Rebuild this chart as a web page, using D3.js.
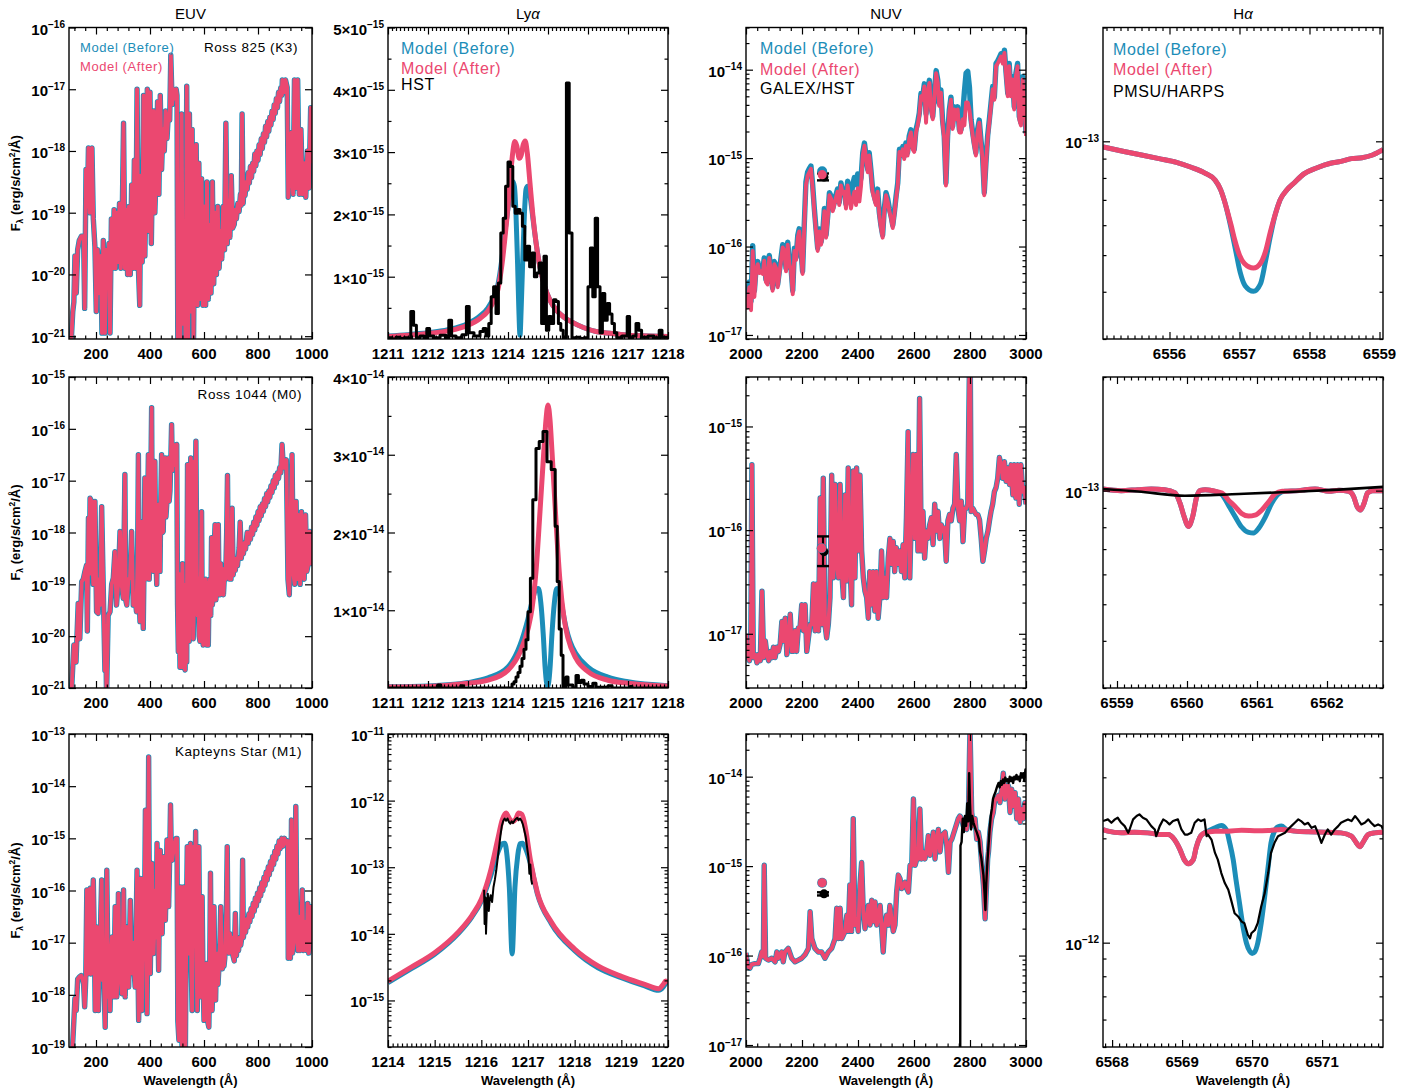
<!DOCTYPE html>
<html>
<head>
<meta charset="utf-8">
<script src="https://cdn.jsdelivr.net/npm/d3@7"></script>
<style>
  body { margin: 0; background: #fff; }
  svg text { font-family: "Liberation Sans", Arial, Helvetica, sans-serif; }
</style>
</head>
<body>
<svg id="fig" width="1422" height="1091"></svg>
<script>
// ---------------------------------------------------------------------------
// Spectra of three stars (Ross 825, Ross 1044, Kapteyn's Star) in four bands.
// EUV and NUV model spectra are stored as [wavelength Å, log10 F_λ];
// Lyα and Hα profiles as [wavelength Å, F_λ] in erg/s/cm²/Å.
// ---------------------------------------------------------------------------

const columnTitles = ["EUV", "Ly", "NUV", "H"];
const starLabels = ["Ross 825 (K3)", "Ross 1044 (M0)", "Kapteyns Star (M1)"];
const legendNames = ["Model (Before)", "Model (After)"];
const obsNames = ["HST", "GALEX/HST", "PMSU/HARPS"];

// ---- EUV (before and after models coincide in this band) ----
const euvRoss825 = [[100,-21.3],[108,-21.1],[114,-20.6],[118,-20.45],[122,-19.7],[127,-20.3],[132,-19.6],[138,-19.45],[146,-19.38],[154,-19.38],[158,-20.55],[163,-18.3],[168,-18.9],[172,-17.95],[177,-19.0],[181,-18.2],[185,-17.95],[190,-19.1],[196,-19.55],[201,-20.6],[206,-19.6],[212,-20.3],[218,-19.7],[222,-20.95],[227,-19.45],[233,-20.95],[238,-19.6],[243,-20.2],[248,-19.5],[252,-20.95],[257,-19.1],[262,-19.9],[267,-18.95],[272,-19.9],[277,-19.0],[282,-19.8],[287,-18.85],[292,-19.9],[297,-19.1],[302,-17.55],[307,-19.9],[312,-18.95],[317,-20.0],[322,-18.9],[327,-20.0],[332,-18.55],[337,-19.9],[342,-18.15],[347,-19.9],[352,-17.0],[357,-19.9],[362,-20.5],[366,-18.4],[371,-19.8],[376,-17.1],[381,-19.7],[386,-18.2],[390,-17.0],[395,-19.3],[400,-17.05],[405,-19.5],[410,-18.0],[413,-17.35],[418,-19.0],[423,-18.3],[428,-17.2],[433,-18.7],[438,-17.1],[443,-18.3],[448,-17.65],[453,-18.0],[458,-17.35],[463,-17.8],[468,-17.4],[473,-17.5],[477,-16.45],[482,-17.25],[487,-17.0],[492,-17.15],[497,-17.0],[500,-17.1],[503,-21.3],[508,-20.0],[512,-21.3],[517,-17.4],[522,-20.8],[527,-19.3],[532,-21.3],[536,-16.95],[541,-21.3],[546,-17.4],[551,-20.6],[556,-17.65],[561,-21.2],[566,-18.6],[571,-17.9],[576,-20.5],[581,-18.2],[586,-20.4],[591,-18.45],[596,-20.5],[601,-18.9],[606,-20.5],[611,-18.5],[616,-20.4],[621,-19.2],[626,-20.3],[631,-18.5],[636,-20.15],[641,-19.0],[646,-20.0],[651,-18.9],[656,-19.9],[661,-19.3],[666,-19.75],[671,-18.9],[676,-19.6],[681,-17.55],[686,-19.5],[691,-18.8],[696,-19.4],[701,-18.4],[706,-19.25],[712,-19.19],[716,-18.95],[720,-19.1],[725,-18.85],[730,-18.98],[735,-18.7],[738,-18.88],[741,-17.4],[745,-18.85],[749,-18.55],[752,-18.72],[756,-18.5],[760,-18.62],[764,-18.35],[768,-18.52],[772,-18.25],[776,-18.43],[780,-18.2],[784,-18.33],[788,-18.05],[792,-18.24],[796,-18.0],[800,-18.15],[804,-17.9],[808,-18.06],[812,-17.8],[816,-17.96],[820,-17.72],[824,-17.86],[828,-17.6],[832,-17.77],[836,-17.52],[840,-17.68],[844,-17.45],[848,-17.58],[852,-17.35],[856,-17.49],[860,-17.25],[864,-17.39],[868,-17.15],[872,-17.3],[876,-17.05],[880,-17.2],[884,-16.98],[888,-17.1],[890,-16.85],[896,-17.05],[902,-16.85],[908,-16.97],[912,-18.75],[918,-18.4],[924,-17.7],[930,-18.7],[935,-16.85],[941,-18.6],[947,-16.85],[953,-18.7],[959,-17.65],[965,-18.7],[971,-18.2],[977,-18.75],[983,-18.0],[989,-18.6],[995,-17.3],[1000,-18.2]];

const euvRoss1044 = [[104,-21.4],[110,-21.0],[118,-20.17],[126,-20.5],[134,-19.37],[140,-20.05],[147,-18.95],[153,-18.9],[159,-18.75],[165,-18.63],[168,-19.9],[172,-17.72],[175,-18.8],[178,-17.34],[184,-17.4],[187,-18.6],[190,-19.0],[196,-17.4],[202,-19.53],[208,-19.56],[212,-18.9],[215,-19.4],[221,-17.5],[227,-19.1],[233,-20.66],[236,-19.8],[239,-21.2],[245,-19.6],[252,-19.53],[258,-19.0],[264,-18.88],[270,-18.37],[276,-19.4],[282,-19.0],[289,-17.98],[295,-19.0],[301,-19.27],[304,-18.2],[307,-16.88],[310,-19.3],[314,-19.4],[320,-18.9],[326,-18.88],[332,-17.98],[338,-19.4],[344,-19.2],[350,-19.53],[354,-18.5],[357,-16.5],[360,-19.3],[363,-19.72],[366,-18.4],[369,-17.79],[372,-19.3],[375,-19.85],[378,-18.6],[381,-16.95],[384,-18.9],[388,-18.75],[391,-17.6],[394,-16.5],[397,-18.9],[400,-18.4],[403,-17.0],[406,-15.59],[409,-18.6],[412,-18.75],[415,-17.5],[418,-16.63],[421,-18.4],[425,-19.0],[428,-17.8],[431,-17.46],[434,-18.3],[437,-18.75],[440,-17.4],[443,-16.5],[446,-18.0],[449,-17.98],[452,-17.2],[456,-16.56],[459,-17.7],[462,-17.46],[465,-17.0],[468,-16.56],[471,-17.4],[474,-17.2],[477,-16.6],[480,-15.92],[483,-16.8],[486,-16.3],[490,-16.7],[494,-16.4],[499,-16.3],[502,-19.4],[505,-20.3],[508,-18.8],[511,-20.6],[514,-19.0],[517,-20.6],[520,-18.6],[523,-19.5],[527,-20.6],[530,-20.65],[533,-19.0],[536,-20.5],[539,-16.69],[542,-19.5],[545,-20.1],[548,-17.2],[551,-16.56],[554,-19.0],[557,-16.63],[560,-20.05],[563,-19.3],[567,-17.5],[570,-16.24],[573,-18.6],[576,-19.6],[579,-18.88],[582,-20.0],[585,-20.1],[588,-19.2],[591,-17.6],[594,-19.9],[597,-20.17],[600,-19.0],[603,-20.1],[606,-18.9],[610,-20.17],[613,-19.27],[616,-20.17],[619,-19.0],[622,-18.9],[625,-19.6],[628,-18.1],[631,-19.4],[634,-19.2],[637,-18.4],[641,-17.85],[644,-19.3],[647,-18.95],[650,-18.3],[653,-17.85],[656,-19.2],[659,-19.2],[662,-18.6],[665,-19.0],[668,-18.7],[672,-19.2],[676,-18.8],[680,-18.9],[684,-18.0],[687,-16.9],[690,-18.6],[694,-18.9],[700,-18.9],[704,-17.53],[708,-18.82],[712,-18.6],[716,-18.73],[720,-18.5],[724,-18.64],[730,-18.3],[734,-17.8],[738,-18.5],[742,-18.3],[746,-18.41],[750,-18.2],[754,-18.32],[758,-18.1],[760,-18.0],[764,-18.21],[768,-18.0],[772,-18.13],[776,-17.9],[780,-18.04],[784,-17.8],[788,-17.95],[792,-17.7],[796,-17.86],[800,-17.6],[804,-17.77],[808,-17.5],[812,-17.68],[816,-17.45],[820,-17.59],[824,-17.35],[828,-17.5],[832,-17.25],[836,-17.41],[840,-17.2],[844,-17.32],[848,-17.1],[852,-17.23],[856,-17.0],[860,-17.14],[864,-16.9],[868,-17.05],[872,-16.85],[876,-16.96],[880,-16.75],[884,-16.85],[889,-16.3],[894,-16.75],[900,-16.65],[905,-16.6],[911,-18.9],[916,-19.2],[921,-17.7],[926,-16.5],[931,-18.8],[936,-19.0],[941,-17.4],[946,-18.9],[951,-17.66],[956,-19.0],[961,-17.6],[966,-18.75],[971,-18.9],[976,-17.66],[981,-18.75],[986,-18.6],[991,-17.98],[996,-18.6],[1000,-18.3]];

const euvKapteyn = [[108,-19.3],[113,-19.0],[118,-18.5],[122,-18.07],[127,-18.3],[132,-17.7],[138,-17.66],[145,-17.63],[150,-17.7],[154,-17.79],[158,-18.23],[162,-17.7],[166,-15.99],[169,-17.6],[172,-17.59],[175,-16.0],[178,-15.96],[181,-17.6],[184,-17.59],[187,-16.2],[190,-15.8],[194,-17.0],[197,-18.3],[200,-17.0],[203,-16.7],[206,-17.5],[209,-18.3],[212,-17.3],[215,-17.21],[218,-16.4],[221,-15.8],[225,-17.72],[228,-17.4],[231,-18.0],[234,-18.62],[237,-17.4],[240,-15.61],[243,-17.0],[246,-18.04],[249,-17.6],[252,-18.3],[256,-17.2],[259,-16.89],[262,-17.5],[265,-18.04],[268,-17.3],[271,-16.31],[274,-17.6],[277,-18.04],[280,-17.5],[283,-16.06],[287,-17.3],[290,-17.59],[293,-17.8],[296,-17.98],[299,-17.0],[302,-15.99],[305,-17.3],[308,-18.04],[311,-17.2],[314,-16.7],[317,-17.6],[321,-17.85],[324,-17.0],[327,-16.19],[330,-17.3],[333,-17.59],[336,-17.21],[339,-17.0],[342,-17.6],[345,-17.85],[348,-16.8],[352,-15.61],[355,-17.3],[358,-18.49],[361,-17.3],[364,-15.77],[367,-17.0],[370,-18.3],[373,-16.8],[376,-15.77],[379,-16.9],[383,-14.46],[386,-17.2],[389,-18.36],[392,-16.5],[395,-13.44],[398,-16.8],[401,-17.59],[404,-16.5],[407,-15.48],[410,-16.8],[413,-17.21],[417,-16.6],[420,-16.0],[423,-16.9],[426,-15.1],[429,-16.5],[432,-17.53],[435,-16.2],[438,-15.23],[441,-16.3],[445,-16.83],[448,-16.0],[451,-15.35],[454,-16.1],[457,-16.57],[460,-15.8],[463,-15.03],[466,-15.9],[469,-16.31],[472,-15.6],[476,-14.36],[479,-15.3],[482,-15.42],[485,-15.3],[488,-15.23],[491,-15.1],[494,-15.03],[497,-15.0],[500,-15.0],[503,-18.5],[507,-18.87],[510,-16.5],[513,-15.93],[516,-18.2],[519,-19.1],[522,-16.6],[525,-15.93],[528,-18.5],[531,-19.1],[534,-17.0],[538,-15.16],[541,-17.2],[544,-17.21],[547,-16.0],[550,-15.1],[553,-17.5],[556,-18.3],[559,-16.2],[562,-15.16],[565,-16.5],[569,-14.87],[572,-17.0],[575,-18.3],[578,-16.6],[581,-15.16],[584,-17.2],[587,-18.04],[590,-17.4],[593,-16.12],[596,-17.5],[600,-18.49],[603,-17.9],[606,-17.98],[609,-17.4],[612,-18.3],[615,-18.55],[618,-18.62],[621,-17.6],[624,-15.67],[627,-17.7],[630,-18.3],[634,-17.6],[637,-16.31],[640,-17.6],[643,-18.1],[646,-17.3],[649,-17.21],[652,-17.8],[655,-17.5],[659,-17.0],[662,-16.31],[665,-17.4],[668,-17.5],[671,-17.2],[674,-17.45],[677,-17.3],[680,-16.8],[683,-16.4],[686,-15.16],[689,-17.1],[692,-17.2],[696,-16.83],[699,-17.1],[702,-16.9],[705,-17.2],[712,-17.35],[716,-16.44],[720,-17.25],[724,-17.0],[728,-17.15],[732,-16.9],[736,-17.05],[740,-16.9],[743,-15.42],[746,-16.9],[750,-16.65],[754,-16.8],[758,-16.55],[762,-16.7],[766,-16.45],[770,-16.6],[774,-16.35],[778,-16.5],[782,-16.25],[786,-16.4],[790,-16.15],[794,-16.3],[798,-16.05],[802,-16.2],[806,-15.95],[810,-16.1],[814,-15.85],[818,-16.0],[822,-15.75],[826,-15.9],[830,-15.65],[834,-15.8],[838,-15.55],[842,-15.7],[846,-15.45],[850,-15.6],[854,-15.35],[858,-15.5],[862,-15.25],[866,-15.4],[870,-15.15],[874,-15.3],[878,-15.05],[882,-15.2],[888,-15.0],[893,-15.15],[898,-15.0],[904,-15.1],[910,-15.05],[912,-17.3],[916,-17.1],[920,-17.3],[924,-14.65],[928,-17.2],[932,-17.0],[936,-16.3],[940,-14.39],[944,-16.8],[948,-17.15],[952,-16.5],[956,-17.15],[960,-17.0],[964,-15.99],[968,-17.15],[972,-17.0],[976,-16.6],[980,-17.15],[984,-16.25],[988,-17.2],[992,-17.0],[996,-16.31],[1000,-16.9]];

// ---- Lyα profiles (F_λ) ----
const lyaRoss825Before = [[1211.0,0.05e-15],[1211.5,0.07e-15],[1212.0,0.1e-15],[1212.5,0.15e-15],[1213.0,0.25e-15],[1213.3,0.37e-15],[1213.5,0.5e-15],[1213.65,0.68e-15],[1213.75,0.88e-15],[1213.85,1.3e-15],[1213.92,1.7e-15],[1214.0,2.1e-15],[1214.06,2.4e-15],[1214.12,2.53e-15],[1214.16,2.45e-15],[1214.2,2.0e-15],[1214.24,1.2e-15],[1214.27,0.5e-15],[1214.3,0.06e-15],[1214.33,0.5e-15],[1214.37,1.3e-15],[1214.41,2.0e-15],[1214.45,2.4e-15],[1214.49,2.45e-15],[1214.55,2.3e-15],[1214.62,1.95e-15],[1214.7,1.55e-15],[1214.8,1.15e-15],[1214.9,0.88e-15],[1215.05,0.62e-15],[1215.2,0.47e-15],[1215.4,0.35e-15],[1215.6,0.27e-15],[1215.9,0.18e-15],[1216.2,0.12e-15],[1216.6,0.09e-15],[1217.0,0.06e-15],[1217.5,0.05e-15],[1218.0,0.04e-15]];
const lyaRoss825After = [[1211.0,0.04e-15],[1211.5,0.06e-15],[1212.0,0.09e-15],[1212.5,0.13e-15],[1213.0,0.22e-15],[1213.3,0.33e-15],[1213.5,0.45e-15],[1213.65,0.62e-15],[1213.75,0.8e-15],[1213.85,1.2e-15],[1213.92,1.6e-15],[1214.0,2.13e-15],[1214.06,2.6e-15],[1214.12,3.0e-15],[1214.17,3.17e-15],[1214.22,3.1e-15],[1214.28,2.9e-15],[1214.33,2.95e-15],[1214.38,3.12e-15],[1214.43,3.18e-15],[1214.48,3.0e-15],[1214.55,2.5e-15],[1214.62,2.0e-15],[1214.7,1.55e-15],[1214.8,1.15e-15],[1214.9,0.88e-15],[1215.05,0.62e-15],[1215.2,0.47e-15],[1215.4,0.35e-15],[1215.6,0.27e-15],[1215.9,0.18e-15],[1216.2,0.12e-15],[1216.6,0.09e-15],[1217.0,0.06e-15],[1217.5,0.05e-15],[1218.0,0.04e-15]];
const lyaRoss825Hst = [[1211.0,0.02e-15],[1211.1,0.0],[1211.2,0.03e-15],[1211.3,0.01e-15],[1211.4,0.02e-15],[1211.5,0.0],[1211.57,0.44e-15],[1211.64,0.22e-15],[1211.71,0.02e-15],[1211.8,0.05e-15],[1211.9,0.0],[1211.97,0.17e-15],[1212.04,0.05e-15],[1212.15,0.02e-15],[1212.3,0.06e-15],[1212.45,0.01e-15],[1212.52,0.3e-15],[1212.59,0.05e-15],[1212.7,0.02e-15],[1212.85,0.07e-15],[1212.96,0.52e-15],[1213.03,0.1e-15],[1213.15,0.05e-15],[1213.3,0.12e-15],[1213.38,0.17e-15],[1213.45,0.05e-15],[1213.52,0.25e-15],[1213.58,0.68e-15],[1213.64,0.84e-15],[1213.7,0.41e-15],[1213.76,0.9e-15],[1213.82,1.7e-15],[1213.88,1.94e-15],[1213.94,2.45e-15],[1214.0,2.84e-15],[1214.06,2.77e-15],[1214.12,2.13e-15],[1214.18,2.02e-15],[1214.24,2.08e-15],[1214.3,2.02e-15],[1214.36,1.81e-15],[1214.42,1.27e-15],[1214.48,1.49e-15],[1214.54,1.16e-15],[1214.6,1.38e-15],[1214.66,1.0e-15],[1214.72,1.06e-15],[1214.78,1.22e-15],[1214.84,0.25e-15],[1214.9,1.33e-15],[1214.96,0.14e-15],[1215.02,0.36e-15],[1215.08,0.25e-15],[1215.14,0.63e-15],[1215.2,0.6e-15],[1215.26,0.25e-15],[1215.32,0.14e-15],[1215.38,0.02e-15],[1215.46,4.11e-15],[1215.53,1.7e-15],[1215.6,0.02e-15],[1215.7,0.03e-15],[1215.8,0.01e-15],[1215.9,0.02e-15],[1216.0,0.84e-15],[1216.06,1.46e-15],[1216.12,0.68e-15],[1216.18,1.94e-15],[1216.24,0.84e-15],[1216.3,0.1e-15],[1216.36,0.73e-15],[1216.42,0.3e-15],[1216.48,0.57e-15],[1216.54,0.4e-15],[1216.6,0.25e-15],[1216.66,0.1e-15],[1216.72,0.02e-15],[1216.85,0.05e-15],[1216.98,0.36e-15],[1217.04,0.02e-15],[1217.12,0.05e-15],[1217.2,0.25e-15],[1217.27,0.14e-15],[1217.34,0.03e-15],[1217.5,0.05e-15],[1217.65,0.02e-15],[1217.78,0.14e-15],[1217.85,0.03e-15],[1218.0,0.03e-15]];

const lyaRoss1044Before = [[1211,0.015e-14],[1212,0.025e-14],[1213,0.07e-14],[1213.5,0.13e-14],[1214.0,0.27e-14],[1214.3,0.55e-14],[1214.5,0.89e-14],[1214.62,1.15e-14],[1214.7,1.27e-14],[1214.76,1.28e-14],[1214.82,1.1e-14],[1214.88,0.7e-14],[1214.93,0.25e-14],[1214.99,0.01e-14],[1215.05,0.25e-14],[1215.1,0.7e-14],[1215.16,1.1e-14],[1215.22,1.28e-14],[1215.28,1.25e-14],[1215.36,1.02e-14],[1215.45,0.78e-14],[1215.55,0.6e-14],[1215.7,0.44e-14],[1216,0.27e-14],[1216.5,0.14e-14],[1217,0.08e-14],[1218,0.03e-14]];
const lyaRoss1044After = [[1211,0.013e-14],[1212,0.02e-14],[1213,0.06e-14],[1213.5,0.1e-14],[1214.0,0.23e-14],[1214.3,0.46e-14],[1214.5,0.76e-14],[1214.6,1.02e-14],[1214.7,1.5e-14],[1214.8,2.27e-14],[1214.9,3.08e-14],[1214.95,3.45e-14],[1215.0,3.64e-14],[1215.05,3.45e-14],[1215.1,3.04e-14],[1215.2,2.14e-14],[1215.3,1.37e-14],[1215.4,0.9e-14],[1215.5,0.64e-14],[1215.7,0.38e-14],[1216.0,0.21e-14],[1216.5,0.1e-14],[1217,0.06e-14],[1218,0.025e-14]];
const lyaRoss1044Hst = [[1211.0,0.0],[1212.25,0.04e-14],[1212.32,0.0],[1212.82,0.03e-14],[1212.88,0.0],[1214.1,0.05e-14],[1214.15,0.08e-14],[1214.2,0.14e-14],[1214.25,0.2e-14],[1214.3,0.28e-14],[1214.35,0.38e-14],[1214.4,0.5e-14],[1214.45,0.62e-14],[1214.5,0.98e-14],[1214.56,1.41e-14],[1214.62,2.42e-14],[1214.7,3.08e-14],[1214.78,3.17e-14],[1214.875,3.3e-14],[1214.975,2.91e-14],[1215.08,2.81e-14],[1215.18,2.08e-14],[1215.23,1.37e-14],[1215.28,0.76e-14],[1215.33,0.42e-14],[1215.375,0.01e-14],[1215.45,0.14e-14],[1215.5,0.04e-14],[1215.62,0.0],[1215.7,0.16e-14],[1215.76,0.07e-14],[1215.83,0.1e-14],[1215.9,0.05e-14],[1216.0,0.02e-14],[1216.12,0.06e-14],[1216.2,0.01e-14],[1216.5,0.03e-14],[1216.6,0.0],[1217.05,0.02e-14],[1217.1,0.0],[1218,0.0]];

const lyaKapteynBefore = [[1214.0,1.85e-15],[1214.5,3.0e-15],[1215.0,4.95e-15],[1215.5,1.0e-14],[1215.8,1.8e-14],[1216.0,3.1e-14],[1216.2,7.4e-14],[1216.35,1.65e-13],[1216.45,2.25e-13],[1216.5,2.3e-13],[1216.55,1.5e-13],[1216.6,5e-14],[1216.66,5e-15],[1216.72,5e-14],[1216.78,1.5e-13],[1216.83,2.25e-13],[1216.88,2.3e-13],[1216.95,1.9e-13],[1217.05,1.15e-13],[1217.2,4.0e-14],[1217.5,1.42e-14],[1218.0,5.6e-15],[1218.5,3.1e-15],[1219.0,2.2e-15],[1219.5,1.65e-15],[1219.8,1.42e-15],[1219.9,1.6e-15],[1219.95,1.8e-15],[1220.0,1.75e-15]];
const lyaKapteynAfter = [[1214.0,1.95e-15],[1214.5,3.16e-15],[1215.0,5.2e-15],[1215.5,1.05e-14],[1215.8,1.9e-14],[1216.0,3.3e-14],[1216.2,8.9e-14],[1216.35,2.6e-13],[1216.45,5.2e-13],[1216.53,6.5e-13],[1216.6,5.4e-13],[1216.67,4.8e-13],[1216.73,5.2e-13],[1216.8,6.5e-13],[1216.87,6.2e-13],[1216.95,3.7e-13],[1217.05,1.3e-13],[1217.2,4.2e-14],[1217.5,1.5e-14],[1218.0,5.9e-15],[1218.5,3.3e-15],[1219.0,2.3e-15],[1219.5,1.75e-15],[1219.8,1.5e-15],[1219.9,1.75e-15],[1219.95,1.95e-15],[1220.0,1.85e-15]];
const lyaKapteynHst = [[1216.06,4.6e-14],[1216.07,1.4e-14],[1216.09,3.5e-14],[1216.1,1.0e-14],[1216.12,2.6e-14],[1216.14,4.0e-14],[1216.16,2.2e-14],[1216.18,3.3e-14],[1216.2,3.8e-14],[1216.23,3.0e-14],[1216.26,5.0e-14],[1216.29,6.5e-14],[1216.32,9e-14],[1216.35,1.35e-13],[1216.38,2.0e-13],[1216.41,3.0e-13],[1216.44,4.2e-13],[1216.47,5.0e-13],[1216.5,5.4e-13],[1216.53,5.0e-13],[1216.56,5.4e-13],[1216.59,4.8e-13],[1216.62,4.5e-13],[1216.65,4.9e-13],[1216.68,4.6e-13],[1216.71,5.0e-13],[1216.74,5.3e-13],[1216.77,5.5e-13],[1216.8,5.1e-13],[1216.83,5.4e-13],[1216.86,5.0e-13],[1216.89,4.4e-13],[1216.92,3.6e-13],[1216.95,2.9e-13],[1216.98,2.0e-13],[1217.01,1.4e-13],[1217.03,8e-14],[1217.05,1.1e-13],[1217.07,6.5e-14],[1217.09,5.5e-14]];

// ---- NUV model spectra, log10 F_λ ----
const nuvRoss825After = [[2000,-16.57],[2004,-16.69],[2012,-16.46],[2018,-16.72],[2024,-16.05],[2030,-16.57],[2036,-16.28],[2042,-16.2],[2048,-16.3],[2054,-16.28],[2060,-16.31],[2065,-16.16],[2071,-16.4],[2077,-16.43],[2083,-16.13],[2089,-16.3],[2095,-16.5],[2101,-16.2],[2107,-16.24],[2113,-16.46],[2119,-16.31],[2125,-16.16],[2131,-16.01],[2137,-16.05],[2143,-16.28],[2149,-15.98],[2155,-16.2],[2161,-16.28],[2167,-16.54],[2173,-16.05],[2179,-16.15],[2185,-15.9],[2190,-15.83],[2196,-16.05],[2202,-16.31],[2208,-15.79],[2214,-15.31],[2220,-15.2],[2226,-15.16],[2232,-15.12],[2238,-15.34],[2244,-15.6],[2250,-15.83],[2256,-16.05],[2262,-15.83],[2268,-15.98],[2274,-15.87],[2280,-15.6],[2286,-15.9],[2292,-15.68],[2298,-15.42],[2304,-15.46],[2310,-15.6],[2315,-15.53],[2321,-15.45],[2327,-15.38],[2333,-15.53],[2339,-15.31],[2345,-15.4],[2351,-15.38],[2357,-15.57],[2363,-15.31],[2369,-15.45],[2375,-15.57],[2381,-15.46],[2387,-15.38],[2393,-15.53],[2399,-15.34],[2405,-15.49],[2411,-15.31],[2417,-14.97],[2423,-14.86],[2429,-15.01],[2435,-15.16],[2440,-14.97],[2446,-15.16],[2452,-15.38],[2458,-15.46],[2464,-15.53],[2470,-15.38],[2476,-15.64],[2482,-15.79],[2488,-15.9],[2494,-15.6],[2500,-15.42],[2506,-15.49],[2512,-15.6],[2518,-15.68],[2524,-15.79],[2530,-15.64],[2536,-15.46],[2542,-15.31],[2548,-14.93],[2554,-14.97],[2560,-14.9],[2565,-15.01],[2571,-14.86],[2577,-14.97],[2583,-14.78],[2589,-14.71],[2595,-14.9],[2601,-14.93],[2607,-14.71],[2613,-14.63],[2619,-14.52],[2625,-14.3],[2631,-14.34],[2637,-14.19],[2643,-14.6],[2649,-14.26],[2655,-14.15],[2661,-14.45],[2667,-14.56],[2673,-14.3],[2679,-14.04],[2685,-14.15],[2690,-14.41],[2696,-14.26],[2702,-14.6],[2708,-14.78],[2714,-15.31],[2720,-14.78],[2726,-14.49],[2732,-14.34],[2738,-14.67],[2744,-14.45],[2750,-14.56],[2756,-14.45],[2762,-14.71],[2768,-14.71],[2774,-14.56],[2780,-14.63],[2786,-14.37],[2792,-14.37],[2798,-14.45],[2804,-14.6],[2810,-14.75],[2815,-14.86],[2821,-14.97],[2827,-14.71],[2833,-14.6],[2839,-14.82],[2845,-15.01],[2851,-15.42],[2857,-15.08],[2863,-14.78],[2869,-14.6],[2875,-14.41],[2881,-14.22],[2887,-14.34],[2893,-13.96],[2899,-13.93],[2905,-13.89],[2911,-13.85],[2917,-13.93],[2923,-13.81],[2929,-14.07],[2935,-14.3],[2940,-13.96],[2946,-14.3],[2952,-14.11],[2958,-14.45],[2964,-14.07],[2970,-13.96],[2976,-14.56],[2982,-14.63],[2988,-14.11],[2994,-14.37],[3000,-14.75]];
const nuvRoss825Before = [[2000,-16.5],[2004,-16.6],[2012,-16.4],[2018,-16.62],[2024,-15.99],[2030,-16.5],[2036,-16.24],[2042,-16.17],[2048,-16.27],[2054,-16.25],[2060,-16.28],[2065,-16.13],[2071,-16.37],[2077,-16.4],[2083,-16.1],[2089,-16.27],[2095,-16.47],[2101,-16.17],[2107,-16.21],[2113,-16.43],[2119,-16.28],[2125,-16.13],[2131,-15.98],[2137,-16.02],[2143,-16.25],[2149,-15.95],[2155,-16.17],[2161,-16.25],[2167,-16.5],[2173,-16.02],[2179,-16.12],[2185,-15.87],[2190,-15.8],[2196,-16.02],[2202,-16.28],[2208,-15.76],[2214,-15.27],[2220,-15.16],[2226,-15.12],[2232,-15.09],[2238,-15.3],[2244,-15.57],[2250,-15.8],[2256,-16.02],[2262,-15.8],[2268,-15.95],[2274,-15.84],[2280,-15.57],[2286,-15.87],[2292,-15.65],[2298,-15.39],[2304,-15.43],[2310,-15.57],[2315,-15.5],[2321,-15.42],[2327,-15.35],[2333,-15.5],[2339,-15.28],[2345,-15.37],[2351,-15.35],[2357,-15.52],[2363,-15.26],[2369,-15.38],[2375,-15.45],[2381,-15.3],[2387,-15.22],[2393,-15.3],[2399,-15.18],[2405,-15.3],[2411,-15.22],[2417,-14.94],[2423,-14.83],[2429,-14.98],[2435,-15.13],[2440,-14.94],[2446,-15.13],[2452,-15.35],[2458,-15.43],[2464,-15.5],[2470,-15.35],[2476,-15.61],[2482,-15.76],[2488,-15.87],[2494,-15.57],[2500,-15.39],[2506,-15.46],[2512,-15.57],[2518,-15.65],[2524,-15.76],[2530,-15.61],[2536,-15.43],[2542,-15.28],[2548,-14.9],[2554,-14.94],[2560,-14.87],[2565,-14.98],[2571,-14.83],[2577,-14.94],[2583,-14.75],[2589,-14.68],[2595,-14.87],[2601,-14.9],[2607,-14.68],[2613,-14.6],[2619,-14.49],[2625,-14.27],[2631,-14.31],[2637,-14.16],[2643,-14.5],[2649,-14.23],[2655,-14.12],[2661,-14.42],[2667,-14.53],[2673,-14.27],[2679,-14.01],[2685,-14.12],[2690,-14.38],[2696,-14.23],[2702,-14.57],[2708,-14.75],[2714,-15.28],[2720,-14.75],[2726,-14.46],[2732,-14.31],[2738,-14.64],[2744,-14.42],[2750,-14.53],[2756,-14.42],[2762,-14.68],[2768,-14.68],[2774,-14.5],[2780,-14.25],[2786,-14.04],[2792,-14.02],[2798,-14.2],[2804,-14.57],[2810,-14.72],[2815,-14.83],[2821,-14.94],[2827,-14.68],[2833,-14.57],[2839,-14.79],[2845,-14.98],[2851,-15.39],[2857,-15.05],[2863,-14.75],[2869,-14.57],[2875,-14.38],[2881,-14.19],[2887,-14.31],[2893,-13.93],[2899,-13.9],[2905,-13.86],[2911,-13.82],[2917,-13.9],[2923,-13.78],[2929,-14.04],[2935,-14.27],[2940,-13.93],[2946,-14.27],[2952,-14.08],[2958,-14.42],[2964,-14.04],[2970,-13.93],[2976,-14.53],[2982,-14.6],[2988,-14.08],[2994,-14.34],[3000,-14.72]];

const nuvRoss1044 = [[2000,-17.0],[2005,-17.2],[2012,-17.26],[2017,-17.17],[2021,-15.37],[2026,-17.23],[2033,-17.2],[2039,-17.28],[2045,-17.2],[2051,-17.26],[2057,-16.59],[2063,-17.23],[2069,-17.07],[2075,-17.2],[2081,-17.26],[2087,-17.17],[2093,-17.23],[2098,-17.13],[2104,-17.23],[2110,-17.13],[2116,-17.17],[2122,-17.1],[2128,-16.88],[2134,-17.07],[2140,-16.85],[2146,-17.2],[2152,-17.04],[2158,-16.81],[2164,-17.17],[2170,-17.17],[2175,-16.97],[2181,-17.17],[2187,-16.94],[2193,-16.94],[2199,-16.72],[2205,-16.97],[2211,-16.72],[2217,-17.17],[2223,-17.04],[2229,-16.91],[2235,-16.91],[2241,-16.52],[2247,-16.97],[2253,-16.52],[2259,-16.97],[2265,-15.69],[2270,-16.91],[2276,-15.5],[2282,-16.91],[2288,-17.04],[2294,-16.91],[2300,-16.65],[2306,-15.47],[2312,-16.46],[2318,-15.56],[2324,-16.33],[2330,-16.46],[2336,-15.56],[2342,-16.4],[2348,-16.65],[2354,-15.66],[2359,-16.49],[2365,-15.4],[2371,-16.3],[2377,-16.72],[2383,-15.43],[2389,-16.46],[2395,-15.4],[2401,-16.2],[2407,-15.47],[2413,-16.2],[2419,-16.46],[2425,-16.59],[2431,-16.65],[2437,-16.85],[2442,-16.4],[2448,-16.72],[2454,-16.4],[2460,-16.78],[2466,-16.4],[2472,-16.85],[2478,-16.65],[2484,-16.2],[2490,-16.65],[2496,-16.46],[2502,-16.65],[2508,-16.27],[2514,-16.08],[2520,-16.33],[2526,-16.11],[2531,-16.4],[2537,-16.17],[2543,-16.33],[2549,-16.2],[2555,-16.4],[2561,-16.14],[2567,-16.46],[2573,-15.88],[2579,-15.05],[2585,-16.46],[2591,-15.79],[2597,-15.27],[2603,-16.08],[2609,-15.27],[2614,-16.2],[2620,-14.73],[2626,-16.2],[2632,-15.82],[2638,-16.27],[2644,-16.01],[2650,-16.08],[2656,-15.95],[2662,-15.88],[2668,-16.14],[2674,-15.75],[2680,-16.01],[2686,-15.82],[2692,-16.08],[2698,-15.95],[2704,-16.01],[2709,-15.98],[2715,-16.3],[2721,-15.91],[2727,-15.85],[2733,-15.91],[2739,-15.79],[2745,-15.75],[2751,-15.27],[2757,-15.79],[2763,-15.91],[2769,-15.72],[2775,-16.11],[2781,-15.79],[2787,-15.79],[2792,-15.75],[2798,-14.4],[2801,-14.4],[2804,-15.82],[2810,-15.79],[2816,-15.82],[2822,-15.85],[2828,-15.85],[2834,-15.9],[2840,-16.08],[2846,-16.3],[2852,-16.2],[2858,-16.08],[2864,-16.01],[2870,-15.9],[2875,-15.82],[2881,-15.75],[2887,-15.63],[2893,-15.59],[2899,-15.5],[2905,-15.3],[2911,-15.37],[2917,-15.5],[2923,-15.34],[2929,-15.53],[2935,-15.4],[2941,-15.56],[2947,-15.37],[2953,-15.66],[2958,-15.37],[2964,-15.69],[2970,-15.37],[2976,-15.75],[2982,-15.37],[2988,-15.63],[2994,-15.59],[3000,-15.75]];

const nuvKapteyn = [[2000,-15.97],[2006,-16.12],[2014,-16.14],[2020,-16.1],[2032,-16.09],[2044,-16.09],[2050,-16.03],[2056,-15.96],[2062,-16.01],[2065,-14.99],[2070,-16.03],[2080,-16.05],[2092,-16.03],[2104,-16.07],[2110,-15.96],[2115,-16.03],[2127,-15.96],[2133,-16.07],[2139,-15.96],[2151,-15.92],[2163,-16.03],[2175,-16.07],[2187,-16.05],[2199,-16.03],[2211,-15.99],[2223,-15.92],[2229,-15.51],[2235,-15.81],[2246,-15.92],[2258,-15.96],[2270,-15.96],[2282,-16.03],[2294,-15.96],[2306,-15.92],[2318,-15.81],[2324,-15.47],[2330,-15.81],[2336,-15.47],[2342,-15.81],[2354,-15.73],[2360,-15.55],[2365,-15.73],[2371,-15.21],[2377,-15.73],[2383,-14.47],[2389,-15.66],[2395,-15.59],[2401,-15.73],[2407,-15.21],[2413,-14.96],[2419,-15.51],[2425,-15.7],[2431,-15.59],[2437,-15.44],[2443,-15.66],[2449,-15.38],[2455,-15.62],[2461,-15.4],[2467,-15.66],[2473,-15.55],[2479,-15.44],[2485,-15.73],[2490,-15.96],[2496,-15.66],[2502,-15.55],[2508,-15.66],[2514,-15.44],[2520,-15.59],[2526,-15.73],[2532,-15.66],[2538,-15.29],[2544,-15.1],[2550,-15.14],[2556,-15.25],[2568,-15.18],[2574,-15.25],[2580,-15.29],[2586,-14.99],[2592,-14.99],[2598,-14.25],[2604,-14.99],[2610,-14.92],[2615,-14.92],[2621,-14.36],[2627,-14.92],[2633,-14.84],[2639,-14.92],[2645,-14.84],[2651,-14.66],[2657,-14.88],[2663,-14.77],[2669,-14.62],[2675,-14.92],[2681,-14.7],[2687,-14.59],[2693,-14.84],[2699,-14.66],[2711,-14.62],[2717,-14.77],[2723,-15.07],[2729,-14.73],[2735,-14.7],[2746,-14.59],[2758,-14.47],[2764,-14.44],[2770,-14.47],[2776,-14.55],[2782,-14.55],[2788,-14.59],[2794,-14.47],[2800,-13.45],[2806,-14.4],[2812,-14.55],[2818,-14.47],[2824,-14.7],[2830,-14.62],[2836,-14.73],[2842,-14.99],[2848,-15.21],[2854,-15.59],[2857,-15.36],[2863,-14.92],[2866,-14.84],[2871,-14.62],[2877,-14.47],[2883,-14.4],[2889,-14.25],[2895,-14.25],[2901,-14.21],[2907,-14.29],[2913,-14.14],[2919,-13.96],[2925,-14.25],[2931,-14.1],[2937,-14.1],[2943,-14.4],[2949,-14.14],[2955,-14.33],[2961,-14.18],[2967,-14.47],[2973,-14.25],[2979,-14.51],[2985,-14.36],[2990,-14.47],[2996,-14.29],[3000,-14.33]];
const nuvKapteynHst = [[2760,-17.5],[2765,-17.5],[2766,-14.77],[2770,-14.73],[2774,-14.47],[2778,-14.62],[2782,-14.44],[2786,-14.55],[2790,-14.3],[2794,-14.5],[2797,-13.96],[2800,-14.3],[2804,-14.59],[2808,-14.44],[2812,-14.51],[2816,-14.55],[2820,-14.59],[2824,-14.62],[2828,-14.66],[2832,-14.7],[2836,-14.84],[2840,-14.9],[2844,-15.0],[2848,-15.1],[2852,-15.3],[2855,-15.49],[2858,-15.2],[2862,-14.96],[2866,-14.77],[2870,-14.59],[2874,-14.44],[2878,-14.36],[2882,-14.25],[2886,-14.21],[2890,-14.18],[2894,-14.14],[2898,-14.1],[2902,-14.07],[2906,-14.12],[2910,-14.05],[2914,-14.09],[2918,-14.03],[2922,-14.07],[2926,-14.01],[2930,-14.05],[2934,-14.03],[2938,-14.07],[2942,-14.0],[2946,-14.05],[2950,-14.01],[2954,-14.07],[2958,-14.0],[2962,-14.03],[2966,-13.98],[2970,-14.03],[2974,-14.0],[2978,-14.05],[2982,-13.96],[2986,-14.01],[2990,-13.96],[2994,-14.05],[2998,-13.92],[3000,-13.96]];

// GALEX NUV photometry: [wavelength, flux, error low, error high]
const galexRoss825 = [2275, 6.1e-16, 5.6e-16, 6.7e-16];
const galexRoss1044 = [2275, 6.2e-17, 4.5e-17, 8.7e-17];
const galexKapteyn = [2275, 4.9e-16, 4.7e-16, 5.1e-16];
// Synthetic NUV band fluxes of the models: [wavelength, before, after]
const bandRoss825 = [2272, 7.1e-16, 6.5e-16];
const bandRoss1044 = [2270, 6.7e-17, 6.7e-17];
const bandKapteyn = [2272, 6.5e-16, 6.5e-16];

// ---- Hα profiles (F_λ) ----
const haRoss825After = [[6555.05,0.966e-13],[6555.35,0.94e-13],[6555.6,0.92e-13],[6555.85,0.9e-13],[6556.1,0.88e-13],[6556.3,0.855e-13],[6556.5,0.825e-13],[6556.65,0.79e-13],[6556.73,0.745e-13],[6556.78,0.70e-13],[6556.83,0.65e-13],[6556.88,0.60e-13],[6556.93,0.55e-13],[6557.0,0.50e-13],[6557.07,0.475e-13],[6557.2,0.462e-13],[6557.3,0.476e-13],[6557.37,0.51e-13],[6557.44,0.575e-13],[6557.51,0.64e-13],[6557.58,0.70e-13],[6557.68,0.745e-13],[6557.78,0.776e-13],[6557.92,0.82e-13],[6558.1,0.85e-13],[6558.3,0.875e-13],[6558.45,0.885e-13],[6558.6,0.9e-13],[6558.75,0.905e-13],[6558.9,0.92e-13],[6559.05,0.95e-13]];
const haRoss825Before = [[6555.05,0.966e-13],[6555.35,0.94e-13],[6555.6,0.92e-13],[6555.85,0.9e-13],[6556.1,0.88e-13],[6556.3,0.855e-13],[6556.5,0.825e-13],[6556.65,0.79e-13],[6556.73,0.745e-13],[6556.8,0.68e-13],[6556.87,0.60e-13],[6556.94,0.52e-13],[6557.01,0.45e-13],[6557.08,0.415e-13],[6557.2,0.401e-13],[6557.3,0.42e-13],[6557.37,0.48e-13],[6557.44,0.56e-13],[6557.51,0.64e-13],[6557.58,0.70e-13],[6557.68,0.745e-13],[6557.78,0.776e-13],[6557.92,0.82e-13],[6558.1,0.85e-13],[6558.3,0.875e-13],[6558.45,0.885e-13],[6558.6,0.9e-13],[6558.75,0.905e-13],[6558.9,0.92e-13],[6559.05,0.95e-13]];

const haRoss1044After = [[6558.8,1.010e-13],[6559.06,1.0e-13],[6559.3,1.006e-13],[6559.49,1.010e-13],[6559.68,1.006e-13],[6559.83,0.986e-13],[6559.9,0.926e-13],[6559.96,0.852e-13],[6560.02,0.804e-13],[6560.08,0.852e-13],[6560.14,0.965e-13],[6560.19,1.002e-13],[6560.26,1.006e-13],[6560.4,0.996e-13],[6560.5,0.986e-13],[6560.59,0.945e-13],[6560.69,0.907e-13],[6560.78,0.87e-13],[6560.88,0.856e-13],[6560.97,0.861e-13],[6561.07,0.889e-13],[6561.17,0.936e-13],[6561.26,0.981e-13],[6561.36,0.996e-13],[6561.6,1.0e-13],[6561.69,1.006e-13],[6561.83,1.010e-13],[6562.03,0.996e-13],[6562.17,1.002e-13],[6562.31,0.996e-13],[6562.38,0.965e-13],[6562.43,0.907e-13],[6562.48,0.889e-13],[6562.53,0.926e-13],[6562.58,0.986e-13],[6562.65,1.0e-13],[6562.8,1.0e-13]];
const haRoss1044Before = [[6558.8,1.010e-13],[6559.06,1.0e-13],[6559.3,1.006e-13],[6559.49,1.010e-13],[6559.68,1.006e-13],[6559.83,0.986e-13],[6559.9,0.926e-13],[6559.96,0.852e-13],[6560.02,0.804e-13],[6560.08,0.852e-13],[6560.14,0.965e-13],[6560.19,1.002e-13],[6560.26,1.006e-13],[6560.4,0.996e-13],[6560.5,0.975e-13],[6560.59,0.917e-13],[6560.69,0.852e-13],[6560.78,0.801e-13],[6560.88,0.775e-13],[6560.95,0.772e-13],[6561.02,0.793e-13],[6561.12,0.852e-13],[6561.21,0.926e-13],[6561.31,0.981e-13],[6561.4,0.996e-13],[6561.6,1.0e-13],[6561.69,1.006e-13],[6561.83,1.010e-13],[6562.03,0.996e-13],[6562.17,1.002e-13],[6562.31,0.996e-13],[6562.38,0.965e-13],[6562.43,0.907e-13],[6562.48,0.889e-13],[6562.53,0.926e-13],[6562.58,0.986e-13],[6562.65,1.0e-13],[6562.8,1.0e-13]];
const haRoss1044Pmsu = [[6558.8,1.01e-13],[6559.3,0.995e-13],[6559.97,0.969e-13],[6560.74,0.98e-13],[6561.69,0.996e-13],[6562.17,1.006e-13],[6562.8,1.023e-13]];

const haKapteynAfter = [[6567.87,2.121e-12],[6567.94,2.098e-12],[6568.13,2.074e-12],[6568.32,2.084e-12],[6568.51,2.074e-12],[6568.7,2.051e-12],[6568.8,2.051e-12],[6568.89,1.984e-12],[6568.97,1.856e-12],[6569.03,1.736e-12],[6569.09,1.69e-12],[6569.16,1.736e-12],[6569.2,1.877e-12],[6569.25,2.006e-12],[6569.32,2.074e-12],[6569.47,2.098e-12],[6569.66,2.098e-12],[6569.85,2.112e-12],[6570.08,2.102e-12],[6570.23,2.107e-12],[6570.42,2.121e-12],[6570.61,2.098e-12],[6570.8,2.088e-12],[6571.04,2.084e-12],[6571.27,2.074e-12],[6571.42,2.029e-12],[6571.49,1.941e-12],[6571.54,1.89e-12],[6571.58,1.941e-12],[6571.66,2.051e-12],[6571.75,2.074e-12],[6571.87,2.084e-12]];
const haKapteynBefore = [[6567.87,2.121e-12],[6567.94,2.098e-12],[6568.13,2.074e-12],[6568.32,2.084e-12],[6568.51,2.074e-12],[6568.7,2.051e-12],[6568.8,2.051e-12],[6568.89,1.984e-12],[6568.97,1.856e-12],[6569.03,1.736e-12],[6569.09,1.69e-12],[6569.16,1.736e-12],[6569.2,1.877e-12],[6569.25,2.006e-12],[6569.32,2.074e-12],[6569.37,2.098e-12],[6569.47,2.145e-12],[6569.56,2.178e-12],[6569.63,2.121e-12],[6569.68,1.941e-12],[6569.73,1.736e-12],[6569.77,1.519e-12],[6569.82,1.3e-12],[6569.87,1.113e-12],[6569.92,0.996e-12],[6569.97,0.942e-12],[6570.0,0.931e-12],[6570.04,0.942e-12],[6570.08,0.996e-12],[6570.13,1.138e-12],[6570.18,1.359e-12],[6570.23,1.661e-12],[6570.27,1.941e-12],[6570.32,2.098e-12],[6570.37,2.159e-12],[6570.42,2.169e-12],[6570.49,2.121e-12],[6570.61,2.098e-12],[6570.8,2.088e-12],[6571.04,2.084e-12],[6571.27,2.074e-12],[6571.42,2.029e-12],[6571.49,1.941e-12],[6571.54,1.89e-12],[6571.58,1.941e-12],[6571.66,2.051e-12],[6571.75,2.074e-12],[6571.87,2.084e-12]];
const haKapteynHarps = [[6567.87,2.243e-12],[6567.94,2.268e-12],[6567.99,2.218e-12],[6568.04,2.268e-12],[6568.08,2.293e-12],[6568.13,2.218e-12],[6568.18,2.169e-12],[6568.23,2.074e-12],[6568.25,2.121e-12],[6568.3,2.268e-12],[6568.35,2.319e-12],[6568.39,2.345e-12],[6568.44,2.293e-12],[6568.49,2.268e-12],[6568.56,2.169e-12],[6568.61,2.121e-12],[6568.63,2.029e-12],[6568.68,2.169e-12],[6568.73,2.268e-12],[6568.77,2.243e-12],[6568.82,2.194e-12],[6568.87,2.243e-12],[6568.94,2.268e-12],[6568.99,2.121e-12],[6569.04,2.051e-12],[6569.08,2.051e-12],[6569.13,2.074e-12],[6569.18,2.218e-12],[6569.23,2.268e-12],[6569.27,2.243e-12],[6569.32,2.268e-12],[6569.35,2.029e-12],[6569.37,2.051e-12],[6569.42,1.984e-12],[6569.47,1.815e-12],[6569.51,1.736e-12],[6569.56,1.588e-12],[6569.61,1.486e-12],[6569.66,1.421e-12],[6569.7,1.329e-12],[6569.75,1.216e-12],[6569.8,1.19e-12],[6569.85,1.15e-12],[6569.89,1.138e-12],[6569.94,1.052e-12],[6569.97,1.029e-12],[6569.99,1.064e-12],[6570.04,1.088e-12],[6570.08,1.138e-12],[6570.13,1.272e-12],[6570.18,1.39e-12],[6570.23,1.588e-12],[6570.27,1.815e-12],[6570.32,1.941e-12],[6570.37,2.029e-12],[6570.42,2.051e-12],[6570.47,2.074e-12],[6570.51,2.121e-12],[6570.56,2.169e-12],[6570.61,2.218e-12],[6570.66,2.268e-12],[6570.7,2.243e-12],[6570.75,2.194e-12],[6570.8,2.218e-12],[6570.85,2.145e-12],[6570.9,2.169e-12],[6570.94,2.074e-12],[6570.99,1.941e-12],[6571.04,2.051e-12],[6571.08,2.121e-12],[6571.13,2.051e-12],[6571.18,2.121e-12],[6571.23,2.169e-12],[6571.27,2.218e-12],[6571.32,2.243e-12],[6571.37,2.268e-12],[6571.42,2.243e-12],[6571.47,2.319e-12],[6571.51,2.268e-12],[6571.56,2.194e-12],[6571.61,2.218e-12],[6571.66,2.268e-12],[6571.7,2.218e-12],[6571.75,2.169e-12],[6571.8,2.194e-12],[6571.85,2.169e-12],[6571.87,2.121e-12]];

// ---------------------------------------------------------------------------
const BLUE = "#1c8db8", PINK = "#eb4870", INK = "#000";
const colX = [69, 388, 746, 1103];
const colW = [243, 280, 280, 280];
const rowY = [27.5, 377, 734];
const rowH = [311.5, 311, 313];

const svg = d3.select("#fig");

const lin = d3.curveLinear, smooth = d3.curveMonotoneX, step = d3.curveStepAfter;
function spectrum(before, after) {
  return [
    { data: before, log: true, color: BLUE, width: 5.4, curve: lin },
    { data: after, log: true, color: PINK, width: 3.9, curve: lin }
  ];
}
function profile(before, after) {
  return [
    { data: before, log: false, color: BLUE, width: 5, curve: smooth },
    { data: after, log: false, color: PINK, width: 5, curve: smooth }
  ];
}

const panels = [
  // ---- row 0: Ross 825 ----
  { row: 0, col: 0, xDomain: [100, 1000], yDomain: [9e-22, 1e-16], logY: true, xMajor: 200, xMinor: 40, yMinor: false,
    series: spectrum(euvRoss825, euvRoss825) },
  { row: 0, col: 1, xDomain: [1211, 1218], yDomain: [0, 5e-15], logY: false, xMajor: 1, xMinor: 0.1,
    yMajorVals: [1e-15, 2e-15, 3e-15, 4e-15, 5e-15], yMinorStep: 0.5e-15, yExp: -15,
    series: profile(lyaRoss825Before, lyaRoss825After).concat([{ data: lyaRoss825Hst, log: false, color: INK, width: 3, curve: step }]) },
  { row: 0, col: 2, xDomain: [2000, 3000], yDomain: [9e-18, 3e-14], logY: true, xMajor: 200, xMinor: 40, yMinor: true,
    series: spectrum(nuvRoss825Before, nuvRoss825After), galex: galexRoss825, band: bandRoss825 },
  { row: 0, col: 3, xDomain: [6555.05, 6559.05], yDomain: [3e-14, 2e-13], logY: true, xMajor: 1, xMinor: 0.1, yMinor: true,
    series: profile(haRoss825Before, haRoss825After) },
  // ---- row 1: Ross 1044 ----
  { row: 1, col: 0, xDomain: [100, 1000], yDomain: [1e-21, 1e-15], logY: true, xMajor: 200, xMinor: 40, yMinor: false,
    series: spectrum(euvRoss1044, euvRoss1044) },
  { row: 1, col: 1, xDomain: [1211, 1218], yDomain: [0, 4e-14], logY: false, xMajor: 1, xMinor: 0.1,
    yMajorVals: [1e-14, 2e-14, 3e-14, 4e-14], yMinorStep: 0.5e-14, yExp: -14,
    series: profile(lyaRoss1044Before, lyaRoss1044After).concat([{ data: lyaRoss1044Hst, log: false, color: INK, width: 3, curve: step }]) },
  { row: 1, col: 2, xDomain: [2000, 3000], yDomain: [3e-18, 3e-15], logY: true, xMajor: 200, xMinor: 40, yMinor: true,
    series: spectrum(nuvRoss1044, nuvRoss1044), galex: galexRoss1044, band: bandRoss1044 },
  { row: 1, col: 3, xDomain: [6558.8, 6562.8], yDomain: [3e-14, 2e-13], logY: true, xMajor: 1, xMinor: 0.1, yMinor: true,
    series: profile(haRoss1044Before, haRoss1044After).concat([{ data: haRoss1044Pmsu, log: false, color: INK, width: 2.6, curve: smooth }]) },
  // ---- row 2: Kapteyn's Star ----
  { row: 2, col: 0, xDomain: [100, 1000], yDomain: [1e-19, 1e-13], logY: true, xMajor: 200, xMinor: 40, yMinor: false,
    series: spectrum(euvKapteyn, euvKapteyn), xTitle: true },
  { row: 2, col: 1, xDomain: [1214, 1220], yDomain: [2e-16, 1e-11], logY: true, xMajor: 1, xMinor: 0.1, yMinor: true,
    series: profile(lyaKapteynBefore, lyaKapteynAfter).concat([{ data: lyaKapteynHst, log: false, color: INK, width: 2, curve: lin }]), xTitle: true },
  { row: 2, col: 2, xDomain: [2000, 3000], yDomain: [9.5e-18, 3e-14], logY: true, xMajor: 200, xMinor: 40, yMinor: true,
    series: spectrum(nuvKapteyn, nuvKapteyn).concat([{ data: nuvKapteynHst, log: true, color: INK, width: 2.4, curve: lin }]),
    galex: galexKapteyn, band: bandKapteyn, xTitle: true },
  { row: 2, col: 3, xDomain: [6567.87, 6571.87], yDomain: [5e-13, 4e-12], logY: true, xMajor: 1, xMinor: 0.1, yMinor: true,
    series: profile(haKapteynBefore, haKapteynAfter).concat([{ data: haKapteynHarps, log: false, color: INK, width: 2.2, curve: lin }]), xTitle: true }
];

function multiples(domain, stepSize) {
  const k0 = Math.ceil(domain[0] / stepSize - 1e-9), k1 = Math.floor(domain[1] / stepSize + 1e-9);
  return d3.range(k0, k1 + 1).map(k => +(k * stepSize).toPrecision(12));
}

function tickLines(g, axisFn, scale, values, size, transform) {
  const a = g.append("g").attr("transform", transform)
    .call(axisFn(scale).tickValues(values).tickSize(-size).tickFormat(""));
  a.select(".domain").remove();
  a.selectAll("line").attr("stroke", INK).attr("stroke-width", 1.2);
  a.selectAll("text").remove();
}

function powerLabel(sel, mantissa, exp) {
  sel.append("tspan").text(mantissa == null ? "10" : mantissa + "\u00d710");
  sel.append("tspan").attr("font-size", 10).attr("dy", -6.5).text("\u2212" + Math.abs(exp));
}

function drawPanel(p) {
  const left = colX[p.col], top = rowY[p.row], w = colW[p.col], h = rowH[p.row];
  const g = svg.append("g").attr("transform", `translate(${left},${top})`);
  const x = d3.scaleLinear().domain(p.xDomain).range([0, w]);
  const y = (p.logY ? d3.scaleLog() : d3.scaleLinear()).domain(p.yDomain).range([h, 0]);

  const clipId = `clip-${p.row}-${p.col}`;
  g.append("clipPath").attr("id", clipId).append("rect").attr("width", w).attr("height", h);
  const plot = g.append("g").attr("clip-path", `url(#${clipId})`);

  p.series.forEach(s => {
    const val = s.log ? v => Math.pow(10, v) : v => v;
    const line = d3.line().x(d => x(d[0])).y(d => y(Math.max(val(d[1]), p.logY ? 1e-30 : -1))).curve(s.curve);
    plot.append("path").datum(s.data).attr("d", line)
      .attr("fill", "none").attr("stroke", s.color).attr("stroke-width", s.width)
      .attr("stroke-linejoin", "round");
  });

  // photometric point with error bar and model band fluxes
  if (p.galex) {
    const [gw, gf, glo, ghi] = p.galex;
    const cx = x(gw);
    g.append("line").attr("x1", cx).attr("x2", cx).attr("y1", y(glo)).attr("y2", y(ghi)).attr("stroke", INK).attr("stroke-width", 2.2);
    [glo, ghi].forEach(v => g.append("line").attr("x1", cx - 6).attr("x2", cx + 6).attr("y1", y(v)).attr("y2", y(v)).attr("stroke", INK).attr("stroke-width", 2.4));
    g.append("circle").attr("cx", cx + 1).attr("cy", y(gf)).attr("r", 4.5).attr("fill", INK);
    const [bw, bBefore, bAfter] = p.band;
    g.append("circle").attr("cx", x(bw)).attr("cy", y(bBefore)).attr("r", 5).attr("fill", BLUE);
    g.append("circle").attr("cx", x(bw)).attr("cy", y(bAfter)).attr("r", 4.6).attr("fill", PINK);
  }

  // ---- axes: ticks on all four sides, pointing inwards ----
  const xMaj = multiples(p.xDomain, p.xMajor);
  const xMin = multiples(p.xDomain, p.xMinor).filter(v => !xMaj.some(m => Math.abs(m - v) < 1e-6));
  tickLines(g, d3.axisBottom, x, xMin, 3.5, `translate(0,${h})`);
  tickLines(g, d3.axisBottom, x, xMaj, 7, `translate(0,${h})`);
  tickLines(g, d3.axisTop, x, xMin, 3.5, "translate(0,0)");
  tickLines(g, d3.axisTop, x, xMaj, 7, "translate(0,0)");

  let yMaj, yMin = [];
  if (p.logY) {
    const e0 = Math.floor(Math.log10(p.yDomain[0]) + 1e-9), e1 = Math.ceil(Math.log10(p.yDomain[1]) - 1e-9);
    yMaj = d3.range(e0, e1 + 1).map(e => Math.pow(10, e))
      .filter(v => v >= p.yDomain[0] * 0.999 && v <= p.yDomain[1] * 1.001);
    if (p.yMinor) {
      d3.range(e0 - 1, e1 + 1).forEach(e => {
        for (let m = 2; m <= 9; m++) {
          const v = m * Math.pow(10, e);
          if (v >= p.yDomain[0] * 0.999 && v <= p.yDomain[1] * 1.001) yMin.push(v);
        }
      });
    }
  } else {
    yMaj = p.yMajorVals;
    yMin = multiples(p.yDomain, p.yMinorStep).filter(v => !yMaj.some(m => Math.abs(m - v) < p.yMinorStep * 1e-3) && v > 0);
  }
  tickLines(g, d3.axisLeft, y, yMin, 3.5, "translate(0,0)");
  tickLines(g, d3.axisLeft, y, yMaj, 7, "translate(0,0)");
  tickLines(g, d3.axisRight, y, yMin, 3.5, `translate(${w},0)`);
  tickLines(g, d3.axisRight, y, yMaj, 7, `translate(${w},0)`);

  g.append("rect").attr("width", w).attr("height", h).attr("fill", "none")
    .attr("stroke", INK).attr("stroke-width", 1.4);

  // tick labels
  g.selectAll(null).data(xMaj).join("text")
    .attr("x", d => x(d)).attr("y", h + 20).attr("text-anchor", "middle")
    .attr("font-size", 15).attr("font-weight", "bold").text(d => d3.format("d")(d));

  g.selectAll(null).data(yMaj).join("text")
    .attr("x", -4).attr("y", d => y(d) + 7).attr("text-anchor", "end")
    .attr("font-size", 15).attr("font-weight", "bold")
    .each(function (d) {
      const sel = d3.select(this);
      if (p.logY) powerLabel(sel, null, Math.round(Math.log10(d)));
      else powerLabel(sel, Math.round(d / Math.pow(10, p.yExp)), p.yExp);
    });

  if (p.xTitle) {
    g.append("text").attr("x", w / 2).attr("y", h + 38).attr("text-anchor", "middle")
      .attr("font-size", 13).attr("font-weight", "bold").text("Wavelength (\u00c5)");
  }
  return g;
}

panels.forEach(drawPanel);

// ---- column titles ----
columnTitles.forEach((t, i) => {
  const txt = svg.append("text").attr("x", colX[i] + colW[i] / 2).attr("y", 19)
    .attr("text-anchor", "middle").attr("font-size", 15).text(t);
  if (t === "Ly" || t === "H") txt.append("tspan").attr("font-style", "italic").text("\u03b1");
});

// ---- y-axis titles on the EUV column ----
rowY.forEach((top, i) => {
  const t = svg.append("text")
    .attr("transform", `translate(20,${top + rowH[i] / 2}) rotate(-90)`)
    .attr("text-anchor", "middle").attr("font-size", 13).attr("font-weight", "bold");
  t.append("tspan").text("F");
  t.append("tspan").attr("font-size", 8.5).attr("dy", 2.5).text("\u03bb");
  t.append("tspan").attr("dy", -2.5).text(" (erg/s/cm");
  t.append("tspan").attr("font-size", 8.5).attr("dy", -5).text("2");
  t.append("tspan").attr("dy", 5).text("/\u00c5)");
});

// ---- legends and star names ----
function label(x, y, text, color, size, anchor) {
  svg.append("text").attr("x", x).attr("y", y).attr("fill", color).attr("font-size", size)
    .attr("letter-spacing", 0.6).attr("text-anchor", anchor || "start").text(text);
}
label(80, 52, legendNames[0], BLUE, 13);
label(80, 71, legendNames[1], PINK, 13);
label(298, 52, starLabels[0], INK, 13.5, "end");
label(302, 399, starLabels[1], INK, 13.5, "end");
label(302, 756, starLabels[2], INK, 13.5, "end");

const legendX = [401, 760, 1113];
const legendY = [[54, 74, 90], [54, 75, 94], [55, 75, 97]];
legendX.forEach((lx, i) => {
  label(lx, legendY[i][0], legendNames[0], BLUE, 16);
  label(lx, legendY[i][1], legendNames[1], PINK, 16);
  label(lx, legendY[i][2], obsNames[i], INK, 16);
});
</script>
</body>
</html>
